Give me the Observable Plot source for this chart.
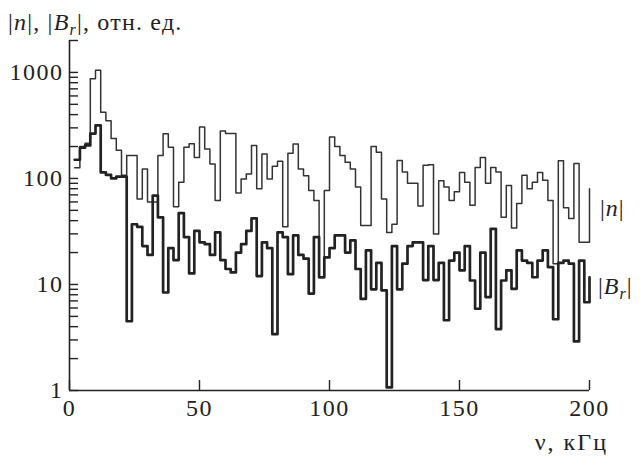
<!DOCTYPE html>
<html><head><meta charset="utf-8">
<script src="https://cdn.jsdelivr.net/npm/d3@7"></script>
<script src="https://cdn.jsdelivr.net/npm/@observablehq/plot@0.6"></script>
<style>
html,body{margin:0;padding:0;background:#fff;}
#chart{position:relative;width:641px;height:459px;}
#chart svg, #chart svg text{font-family:"Liberation Serif","DejaVu Serif",serif !important;}
#chart svg g[aria-label$="tick label"] text{letter-spacing:1.5px;}
</style></head><body><div id="chart"></div>
<script>
// Frequency bins (kHz): bin starts 2,4,...,198 plus the closing point at 200
const freqStart = 2;
const freqStep = 2;

// |n| (thin line), relative units, one value per 2 kHz bin, last = closing value at 200 kHz
const nValues = [
  126, 200, 215, 870, 1050, 420, 350, 238, 184, 107,
  165, 165, 64, 123, 60, 60, 165, 264, 197, 54,
  92, 197, 212, 158, 305, 190, 137, 62, 280, 265,
  265, 73, 99, 110, 205, 80, 170, 99, 130, 145,
  35, 173, 211, 123, 106, 77, 62, 11.6, 77, 246,
  200, 165, 142, 123, 83, 36, 36, 200, 177, 64,
  31, 37, 148, 115, 90, 90, 55, 133, 135, 30,
  95, 83, 62, 75, 114, 92, 56, 127, 158, 90,
  127, 115, 43, 86, 34, 58, 107, 80, 92, 114,
  96, 62, 15.7, 147, 53, 42, 138, 25, 25, 80
];

// |B_r| (thick line)
const bValues = [
  150, 195, 205, 265, 316, 114, 108, 100, 104, 104,
  4.5, 37, 35, 23, 19, 69, 43, 8.4, 22, 17,
  47, 28, 12.7, 32, 25, 24, 19, 31, 17, 14,
  13, 20, 24, 32, 42, 12, 25, 22, 3.4, 31,
  28, 12.5, 29, 19, 17.5, 8.2, 28, 11.7, 18, 22,
  29, 29, 20, 26, 14, 7.3, 21, 9, 16, 8.8,
  1.07, 23, 9, 15.7, 23, 25, 25, 11, 23, 11,
  16, 4.6, 16.8, 20, 13.6, 23, 10.9, 5.9, 20, 7.6,
  33.5, 3.8, 10.9, 13.6, 9.1, 21, 16.8, 16, 11.7, 16.8,
  21, 14.6, 4.7, 16, 16.8, 15.7, 2.9, 16.8, 6.8, 11.7
];

const yMajorTicks = [1, 10, 100, 1000];
const yMinorTicks = [2, 3, 4, 5, 6, 7, 8, 9, 20, 30, 40, 50, 60, 70, 80, 90,
                     200, 300, 400, 500, 600, 700, 800, 900, 2000];
const xTicks = [0, 50, 100, 150, 200];

const freq = nValues.map((_, i) => freqStart + freqStep * i);
const nData = freq.map((f, i) => ({f, v: nValues[i]}));
const bData = freq.map((f, i) => ({f, v: bValues[i]}));

const W = 641, H = 459, mL = 69, mR = 52, mT = 40, mB = 69;
const ink = "#222";
const font = "'Liberation Serif', 'DejaVu Serif', serif";

const plot = Plot.plot({
  width: W, height: H,
  marginLeft: mL, marginRight: mR, marginTop: mT, marginBottom: mB,
  style: {fontFamily: font, background: "#fff", color: ink, overflow: "visible"},
  x: {domain: [0, 200]},
  y: {type: "log", domain: [1, 2000]},
  marks: [
    Plot.axisY(yMajorTicks, {tickSize: 0, tickPadding: 6, fontSize: 24, fontFamily: font, tickFormat: d => String(d), label: null, fill: ink}),
    Plot.axisX(xTicks, {tickSize: 0, tickPadding: 8, fontSize: 24, fontFamily: font, tickFormat: d => String(d), label: null, fill: ink}),
    Plot.tickY([...yMajorTicks, ...yMinorTicks], {y: d => d, insetRight: (W - mL - mR) - 9, stroke: ink, strokeWidth: 1.4}),
    Plot.tickX(xTicks, {x: d => d, insetTop: (H - mT - mB) - 10, stroke: ink, strokeWidth: 1.4}),
    Plot.ruleX([0], {stroke: ink, strokeWidth: 1.6}),
    Plot.ruleY([1], {stroke: ink, strokeWidth: 1.6}),
    Plot.line(nData, {x: "f", y: "v", curve: "step-after", stroke: "#333", strokeWidth: 1.5}),
    Plot.line(bData, {x: "f", y: "v", curve: "step-after", stroke: "#222", strokeWidth: 2.7})
  ]
});

const svg = d3.select(plot);
function label(x, y, size, spacing, parts, anchor = "start") {
  const t = svg.append("text").attr("x", x).attr("y", y)
    .attr("font-family", font).attr("font-size", size).attr("fill", ink)
    .attr("letter-spacing", spacing).attr("text-anchor", anchor);
  for (const p of parts) {
    const s = t.append("tspan").text(p.t);
    if (p.i) s.attr("font-style", "italic");
    if (p.sub) s.attr("font-size", Math.round(size * 0.68)).attr("dy", 5);
    if (p.up) s.attr("dy", -5);
  }
  return t;
}
label(8, 30, 24, 1.2, [{t: "|"}, {t: "n", i: 1}, {t: "|, |"}, {t: "B", i: 1}, {t: "r", i: 1, sub: 1}, {t: "|, отн. ед.", up: 1}]);
label(600, 216, 24, 1, [{t: "|"}, {t: "n", i: 1}, {t: "|"}]);
label(598, 294, 24, 1, [{t: "|"}, {t: "B", i: 1}, {t: "r", i: 1, sub: 1}, {t: "|", up: 1}]);
label(608, 450, 24, 2, [{t: "ν, кГц"}], "end");

document.getElementById("chart").appendChild(plot);
</script>
</body></html>
